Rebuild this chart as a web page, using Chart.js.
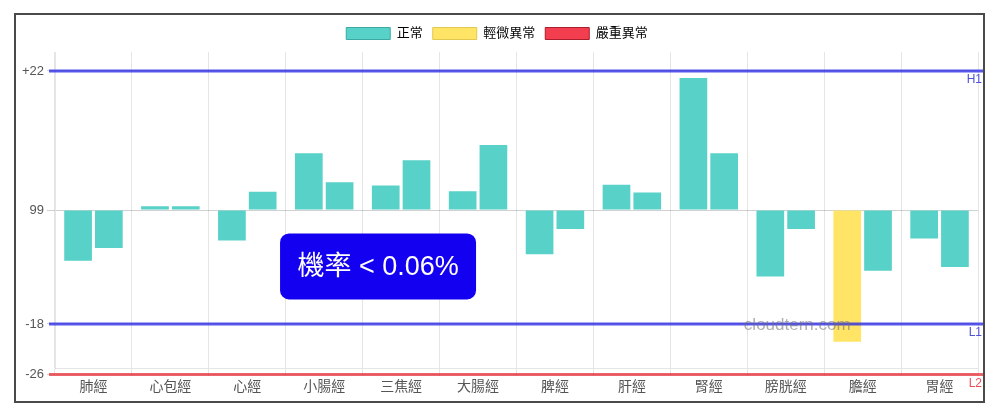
<!DOCTYPE html>
<html>
<head>
<meta charset="utf-8">
<script src="https://cdn.jsdelivr.net/npm/chart.js@4.4.1/dist/chart.umd.min.js"></script>
<style>
  html, body { margin: 0; padding: 0; background: #fff; }
  #frame { position: absolute; left: 14px; top: 13px; width: 967px; height: 386px; border: 2px solid #4a4a4a; }
</style>
</head>
<body>
<div id="frame"><canvas id="myChart"></canvas></div>
<script>
const categories = ['肺經', '心包經', '心經', '小腸經', '三焦經', '大腸經', '脾經', '肝經', '腎經', '膀胱經', '膽經', '胃經'];
const seriesA = [-8.0, 0.6, -4.8, 9.0, 3.9, 3.0, -7.0, 4.0, 20.9, -10.5, -20.8, -4.5];
const seriesB = [-6.0, 0.6, 2.9, 4.4, 7.9, 10.3, -3.0, 2.8, 9.0, -3.0, -9.6, -9.0];
// 0 = 正常, 1 = 輕微異常, 2 = 嚴重異常
const statusA = [0, 0, 0, 0, 0, 0, 0, 0, 0, 0, 1, 0];
const statusB = [0, 0, 0, 0, 0, 0, 0, 0, 0, 0, 0, 0];
const statusNames = ['正常', '輕微異常', '嚴重異常'];
const tickValues = [22, 0, -18, -26];
const tickLabels = ['+22', '99', '-18', '-26'];
const refValues = [22, -18, -26];
const refNames = ['H1', 'L1', 'L2'];
const noteText = '機率 < 0.06%';
const watermark = 'cloudtern.com';

const fill = ['rgb(88, 209, 200)', 'rgb(255, 228, 102)', 'rgb(242, 62, 78)'];
const edge = ['rgb(60, 170, 162)', 'rgb(225, 200, 80)', 'rgb(170, 30, 45)'];
const refColor = ['rgba(40, 40, 230, 0.78)', 'rgba(40, 40, 230, 0.78)', 'rgba(230, 40, 50, 0.72)'];
const refText = ['rgb(80, 80, 215)', 'rgb(80, 80, 215)', 'rgb(235, 80, 90)'];
const font = "'Liberation Sans', Arial, 'Noto Sans CJK TC', sans-serif";

Chart.defaults.font.family = font;
Chart.defaults.color = '#555';

const extras = {
    id: 'extras',
    beforeInit(chart) {
        // a little more room under the legend
        const fit = chart.legend.fit;
        chart.legend.fit = function () { fit.call(this); this.height += 2; };
    },
    afterDatasetsDraw(chart) {
        const ctx = chart.ctx;
        const x = chart.scales.x, y = chart.scales.y;
        const area = chart.chartArea;
        ctx.save();
        // reference lines
        refValues.forEach((v, i) => {
            const py = y.getPixelForValue(v);
            ctx.strokeStyle = refColor[i];
            ctx.lineWidth = 3;
            ctx.beginPath();
            ctx.moveTo(area.left - 6, py);
            ctx.lineTo(chart.width, py);
            ctx.stroke();
            ctx.fillStyle = refText[i];
            ctx.font = '12px ' + font;
            ctx.textAlign = 'right';
            ctx.textBaseline = 'middle';
            ctx.fillText(refNames[i], chart.width - 1, py + 9);
        });
        // watermark
        ctx.fillStyle = 'rgba(110, 110, 110, 0.55)';
        ctx.font = '17px ' + font;
        ctx.textAlign = 'center';
        ctx.textBaseline = 'middle';
        ctx.fillText(watermark, x.getPixelForValue(9.15), y.getPixelForValue(-18) + 1);
        // note box
        const cx = x.getPixelForValue(3.7), cy = y.getPixelForValue(-8.9);
        ctx.fillStyle = 'rgb(20, 0, 240)';
        ctx.beginPath();
        ctx.roundRect(cx - 98, cy - 33, 196, 66, 9);
        ctx.fill();
        ctx.fillStyle = '#fff';
        ctx.font = '27px ' + font;
        ctx.fillText(noteText, cx, cy + 1);
        ctx.restore();
    }
};

new Chart(document.getElementById('myChart').getContext('2d'), {
    type: 'bar',
    data: {
        labels: categories,
        datasets: [{
            label: 'A',
            data: seriesA,
            backgroundColor: statusA.map(s => fill[s]),
            borderWidth: 0,
        }, {
            label: 'B',
            data: seriesB,
            backgroundColor: statusB.map(s => fill[s]),
            borderWidth: 0,
        }]
    },
    options: {
        responsive: true,
        maintainAspectRatio: false,
        animation: false,
        layout: { padding: { top: 2, right: 5, bottom: 2, left: 0 } },
        plugins: {
            tooltip: { enabled: false },
            legend: {
                labels: {
                    boxWidth: 44,
                    boxHeight: 12,
                    font: { size: 13 },
                    generateLabels: () => statusNames.map((n, i) => ({
                        text: n, fillStyle: fill[i], strokeStyle: edge[i], lineWidth: 1, hidden: false
                    }))
                },
                onClick: () => {}
            }
        },
        scales: {
            x: {
                grid: { color: 'rgba(0,0,0,0.1)' },
                ticks: { font: { size: 14 } }
            },
            y: {
                min: -25,
                max: 25,
                afterFit: s => { s.width = 39; },
                afterBuildTicks: s => { s.ticks = tickValues.map(v => ({ value: v })); },
                grid: { color: 'rgba(0,0,0,0.18)' },
                ticks: {
                    font: { size: 13 },
                    callback: v => tickLabels[tickValues.indexOf(v)]
                }
            }
        }
    },
    plugins: [extras]
});
</script>
</body>
</html>
